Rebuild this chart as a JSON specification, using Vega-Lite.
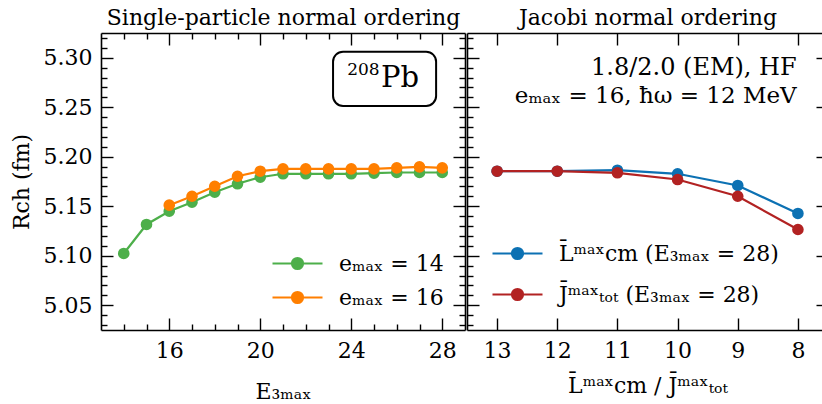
{
  "$schema": "https://vega.github.io/schema/vega-lite/v6.json",
  "padding": {"left": 10, "top": 6, "right": 0, "bottom": 0},
  "background": "white",
  "config": {
    "font": "DejaVu Serif",
    "view": {"stroke": null},
    "axis": {
      "labelFont": "DejaVu Serif", "titleFont": "DejaVu Serif",
      "labelFontSize": 22, "titleFontSize": 22, "titleFontWeight": "normal",
      "labelColor": "black", "titleColor": "black",
      "domainColor": "black", "domainWidth": 1.6,
      "tickColor": "black", "tickWidth": 1.4,
      "grid": false, "labelOverlap": false, "labelFlush": false,
      "minExtent": 0
    }
  },
  "datasets": {
    "sp": [
      {"E3max": 14, "R": 5.1023, "emax": 14, "series": "eₘₐₓ = 14"},
      {"E3max": 15, "R": 5.1316, "emax": 14, "series": "eₘₐₓ = 14"},
      {"E3max": 16, "R": 5.1450, "emax": 14, "series": "eₘₐₓ = 14"},
      {"E3max": 17, "R": 5.1541, "emax": 14, "series": "eₘₐₓ = 14"},
      {"E3max": 18, "R": 5.1642, "emax": 14, "series": "eₘₐₓ = 14"},
      {"E3max": 19, "R": 5.1727, "emax": 14, "series": "eₘₐₓ = 14"},
      {"E3max": 20, "R": 5.1793, "emax": 14, "series": "eₘₐₓ = 14"},
      {"E3max": 21, "R": 5.1828, "emax": 14, "series": "eₘₐₓ = 14"},
      {"E3max": 22, "R": 5.1828, "emax": 14, "series": "eₘₐₓ = 14"},
      {"E3max": 23, "R": 5.1828, "emax": 14, "series": "eₘₐₓ = 14"},
      {"E3max": 24, "R": 5.1828, "emax": 14, "series": "eₘₐₓ = 14"},
      {"E3max": 25, "R": 5.1834, "emax": 14, "series": "eₘₐₓ = 14"},
      {"E3max": 26, "R": 5.1841, "emax": 14, "series": "eₘₐₓ = 14"},
      {"E3max": 27, "R": 5.1841, "emax": 14, "series": "eₘₐₓ = 14"},
      {"E3max": 28, "R": 5.1841, "emax": 14, "series": "eₘₐₓ = 14"},
      {"E3max": 16, "R": 5.1511, "emax": 16, "series": "eₘₐₓ = 16"},
      {"E3max": 17, "R": 5.1601, "emax": 16, "series": "eₘₐₓ = 16"},
      {"E3max": 18, "R": 5.1702, "emax": 16, "series": "eₘₐₓ = 16"},
      {"E3max": 19, "R": 5.1803, "emax": 16, "series": "eₘₐₓ = 16"},
      {"E3max": 20, "R": 5.1854, "emax": 16, "series": "eₘₐₓ = 16"},
      {"E3max": 21, "R": 5.1878, "emax": 16, "series": "eₘₐₓ = 16"},
      {"E3max": 22, "R": 5.1878, "emax": 16, "series": "eₘₐₓ = 16"},
      {"E3max": 23, "R": 5.1878, "emax": 16, "series": "eₘₐₓ = 16"},
      {"E3max": 24, "R": 5.1878, "emax": 16, "series": "eₘₐₓ = 16"},
      {"E3max": 25, "R": 5.1878, "emax": 16, "series": "eₘₐₓ = 16"},
      {"E3max": 26, "R": 5.1888, "emax": 16, "series": "eₘₐₓ = 16"},
      {"E3max": 27, "R": 5.1898, "emax": 16, "series": "eₘₐₓ = 16"},
      {"E3max": 28, "R": 5.1888, "emax": 16, "series": "eₘₐₓ = 16"}
    ],
    "jac": [
      {"cut": 13, "R": 5.1854, "kind": "L", "series": "L̄ᵐᵃˣcm (E₃ₘₐₓ = 28)"},
      {"cut": 12, "R": 5.1854, "kind": "L", "series": "L̄ᵐᵃˣcm (E₃ₘₐₓ = 28)"},
      {"cut": 11, "R": 5.1864, "kind": "L", "series": "L̄ᵐᵃˣcm (E₃ₘₐₓ = 28)"},
      {"cut": 10, "R": 5.1828, "kind": "L", "series": "L̄ᵐᵃˣcm (E₃ₘₐₓ = 28)"},
      {"cut": 9, "R": 5.1710, "kind": "L", "series": "L̄ᵐᵃˣcm (E₃ₘₐₓ = 28)"},
      {"cut": 8, "R": 5.1427, "kind": "L", "series": "L̄ᵐᵃˣcm (E₃ₘₐₓ = 28)"},
      {"cut": 13, "R": 5.1854, "kind": "J", "series": "J̄ᵐᵃˣₜₒₜ (E₃ₘₐₓ = 28)"},
      {"cut": 12, "R": 5.1854, "kind": "J", "series": "J̄ᵐᵃˣₜₒₜ (E₃ₘₐₓ = 28)"},
      {"cut": 11, "R": 5.1838, "kind": "J", "series": "J̄ᵐᵃˣₜₒₜ (E₃ₘₐₓ = 28)"},
      {"cut": 10, "R": 5.1770, "kind": "J", "series": "J̄ᵐᵃˣₜₒₜ (E₃ₘₐₓ = 28)"},
      {"cut": 9, "R": 5.1601, "kind": "J", "series": "J̄ᵐᵃˣₜₒₜ (E₃ₘₐₓ = 28)"},
      {"cut": 8, "R": 5.1265, "kind": "J", "series": "J̄ᵐᵃˣₜₒₜ (E₃ₘₐₓ = 28)"}
    ],
    "one": [{}]
  },
  "spacing": 0,
  "resolve": {
    "scale": {"fill": "independent", "stroke": "independent"},
    "legend": {"fill": "independent", "stroke": "independent"}
  },
  "hconcat": [
    {
      "width": 364, "height": 297,
      "data": {"name": "sp"},
      "resolve": {"axis": {"x": "independent", "y": "independent"}},
      "layer": [
        {
          "transform": [{"filter": "datum.emax == 14"}],
          "mark": {"type": "line", "strokeWidth": 2.2},
          "encoding": {
            "x": {"field": "E3max", "type": "quantitative",
              "scale": {"domain": [13, 29], "nice": false, "zero": false},
              "axis": {"orient": "bottom", "title": "E₃ₘₐₓ", "values": [14,15,16,17,18,19,20,21,22,23,24,25,26,27,28],
                "labelExpr": "datum.value % 4 == 0 ? datum.label : ''",
                "tickSize": {"condition": {"test": "datum.value % 4 == 0", "value": -12}, "value": -6},
                "labelPadding": 22, "titlePadding": 14}},
            "y": {"field": "R", "type": "quantitative",
              "scale": {"domain": [5.025, 5.325], "nice": false, "zero": false},
              "axis": {"orient": "left", "title": "Rch (fm)",
                "values": [5.03,5.04,5.05,5.06,5.07,5.08,5.09,5.1,5.11,5.12,5.13,5.14,5.15,5.16,5.17,5.18,5.19,5.2,5.21,5.22,5.23,5.24,5.25,5.26,5.27,5.28,5.29,5.3,5.31,5.32],
                "labelExpr": "abs(datum.value*20 - round(datum.value*20)) < 0.01 ? format(datum.value, '.2f') : ''",
                "tickSize": {"condition": {"test": "abs(datum.value*20 - round(datum.value*20)) < 0.01", "value": -12}, "value": -6},
                "labelPadding": 21, "titlePadding": 10}},
            "stroke": {"field": "series", "type": "nominal",
              "scale": {"domain": ["eₘₐₓ = 14", "eₘₐₓ = 16"], "range": ["#4daf4a", "#ff7f00"]},
              "legend": {"title": null, "orient": "bottom-right", "offset": 21,
                "symbolType": "M-1,0H4M0.95,0A0.55,0.55,0,1,1,2.05,0A0.55,0.55,0,1,1,0.95,0",
                "symbolSize": 400, "symbolStrokeWidth": 2.2, "symbolOpacity": 1,
                "labelFont": "DejaVu Serif", "labelFontSize": 22, "labelColor": "black",
                "labelOffset": 45, "rowPadding": 11, "padding": 0, "labelLimit": 0}}
          }
        },
        {
          "transform": [{"filter": "datum.emax == 14"}],
          "mark": {"type": "point", "filled": true, "size": 135, "opacity": 1},
          "encoding": {
            "x": {"field": "E3max", "type": "quantitative",
              "axis": {"orient": "top", "title": "Single-particle normal ordering", "titlePadding": 3, "labels": false,
                "values": [14,15,16,17,18,19,20,21,22,23,24,25,26,27,28],
                "tickSize": {"condition": {"test": "datum.value % 4 == 0", "value": -12}, "value": -6}}},
            "y": {"field": "R", "type": "quantitative",
              "axis": {"orient": "right", "title": null, "labels": false,
                "values": [5.03,5.04,5.05,5.06,5.07,5.08,5.09,5.1,5.11,5.12,5.13,5.14,5.15,5.16,5.17,5.18,5.19,5.2,5.21,5.22,5.23,5.24,5.25,5.26,5.27,5.28,5.29,5.3,5.31,5.32],
                "tickSize": {"condition": {"test": "abs(datum.value*20 - round(datum.value*20)) < 0.01", "value": -12}, "value": -6}}},
            "fill": {"field": "series", "type": "nominal",
              "scale": {"domain": ["eₘₐₓ = 14", "eₘₐₓ = 16"], "range": ["#4daf4a", "#ff7f00"]},
              "legend": {"title": null, "orient": "bottom-right", "offset": 21,
                "symbolType": "M-1,0H4M0.95,0A0.55,0.55,0,1,1,2.05,0A0.55,0.55,0,1,1,0.95,0",
                "symbolSize": 400, "symbolStrokeWidth": 2.2, "symbolOpacity": 1,
                "labelFont": "DejaVu Serif", "labelFontSize": 22, "labelColor": "black",
                "labelOffset": 45, "rowPadding": 11, "padding": 0, "labelLimit": 0}}
          }
        },
        {
          "transform": [{"filter": "datum.emax == 16"}],
          "mark": {"type": "line", "strokeWidth": 2.2},
          "encoding": {
            "x": {"field": "E3max", "type": "quantitative", "axis": null},
            "y": {"field": "R", "type": "quantitative", "axis": null},
            "stroke": {"field": "series", "type": "nominal"}
          }
        },
        {
          "transform": [{"filter": "datum.emax == 16"}],
          "mark": {"type": "point", "filled": true, "size": 135, "opacity": 1},
          "encoding": {
            "x": {"field": "E3max", "type": "quantitative", "axis": null},
            "y": {"field": "R", "type": "quantitative", "axis": null},
            "fill": {"field": "series", "type": "nominal"}
          }
        },
        {
          "data": {"name": "one"},
          "mark": {"type": "rect", "cornerRadius": 10, "fill": "white", "stroke": "black", "strokeWidth": 2},
          "encoding": {
            "x": {"datum": 23.2, "type": "quantitative", "axis": null},
            "x2": {"datum": 27.73},
            "y": {"datum": 5.3061, "type": "quantitative", "axis": null},
            "y2": {"datum": 5.2513}
          }
        },
        {
          "data": {"name": "one"},
          "mark": {"type": "text", "text": "208", "align": "right", "baseline": "alphabetic", "fontSize": 17, "font": "DejaVu Serif", "color": "black"},
          "encoding": {
            "x": {"datum": 25.25, "type": "quantitative", "axis": null},
            "y": {"datum": 5.2826, "type": "quantitative", "axis": null}
          }
        },
        {
          "data": {"name": "one"},
          "mark": {"type": "text", "text": "Pb", "align": "left", "baseline": "alphabetic", "fontSize": 29, "font": "DejaVu Serif", "color": "black"},
          "encoding": {
            "x": {"datum": 25.31, "type": "quantitative", "axis": null},
            "y": {"datum": 5.2708, "type": "quantitative", "axis": null}
          }
        }
      ]
    },
    {
      "width": 361, "height": 297,
      "data": {"name": "jac"},
      "resolve": {"axis": {"x": "independent", "y": "independent"}},
      "layer": [
        {
          "transform": [{"filter": "datum.kind == 'L'"}],
          "mark": {"type": "line", "strokeWidth": 2.2},
          "encoding": {
            "x": {"field": "cut", "type": "quantitative",
              "scale": {"domain": [7.5, 13.5], "reverse": true, "nice": false, "zero": false},
              "axis": {"orient": "bottom", "title": "L̄ᵐᵃˣcm / J̄ᵐᵃˣₜₒₜ", "values": [8,9,10,11,12,13],
                "tickSize": -12, "labelPadding": 22, "titlePadding": 14}},
            "y": {"field": "R", "type": "quantitative",
              "scale": {"domain": [5.025, 5.325], "nice": false, "zero": false},
              "axis": {"orient": "left", "title": null, "labels": false,
                "values": [5.03,5.04,5.05,5.06,5.07,5.08,5.09,5.1,5.11,5.12,5.13,5.14,5.15,5.16,5.17,5.18,5.19,5.2,5.21,5.22,5.23,5.24,5.25,5.26,5.27,5.28,5.29,5.3,5.31,5.32],
                "tickSize": {"condition": {"test": "abs(datum.value*20 - round(datum.value*20)) < 0.01", "value": -12}, "value": -6}}},
            "stroke": {"field": "series", "type": "nominal",
              "scale": {"domain": ["L̄ᵐᵃˣcm (E₃ₘₐₓ = 28)", "J̄ᵐᵃˣₜₒₜ (E₃ₘₐₓ = 28)"], "range": ["#0c71b3", "#b22222"]},
              "legend": {"title": null, "orient": "bottom-left", "offset": 24,
                "symbolType": "M-1,0H4M0.95,0A0.55,0.55,0,1,1,2.05,0A0.55,0.55,0,1,1,0.95,0",
                "symbolSize": 400, "symbolStrokeWidth": 2.2, "symbolOpacity": 1,
                "labelFont": "DejaVu Serif", "labelFontSize": 22, "labelColor": "black",
                "labelOffset": 45, "rowPadding": 18, "padding": 0, "labelLimit": 0}}
          }
        },
        {
          "transform": [{"filter": "datum.kind == 'L'"}],
          "mark": {"type": "point", "filled": true, "size": 135, "opacity": 1},
          "encoding": {
            "x": {"field": "cut", "type": "quantitative",
              "axis": {"orient": "top", "title": "Jacobi normal ordering", "titlePadding": 3, "labels": false, "values": [8,9,10,11,12,13], "tickSize": -12}},
            "y": {"field": "R", "type": "quantitative",
              "axis": {"orient": "right", "title": null, "labels": false, "values": [5.05,5.1,5.15,5.2,5.25,5.3], "tickSize": -12}},
            "fill": {"field": "series", "type": "nominal",
              "scale": {"domain": ["L̄ᵐᵃˣcm (E₃ₘₐₓ = 28)", "J̄ᵐᵃˣₜₒₜ (E₃ₘₐₓ = 28)"], "range": ["#0c71b3", "#b22222"]},
              "legend": {"title": null, "orient": "bottom-left", "offset": 24,
                "symbolType": "M-1,0H4M0.95,0A0.55,0.55,0,1,1,2.05,0A0.55,0.55,0,1,1,0.95,0",
                "symbolSize": 400, "symbolStrokeWidth": 2.2, "symbolOpacity": 1,
                "labelFont": "DejaVu Serif", "labelFontSize": 22, "labelColor": "black",
                "labelOffset": 45, "rowPadding": 18, "padding": 0, "labelLimit": 0}}
          }
        },
        {
          "transform": [{"filter": "datum.kind == 'J'"}],
          "mark": {"type": "line", "strokeWidth": 2.2},
          "encoding": {
            "x": {"field": "cut", "type": "quantitative", "axis": null},
            "y": {"field": "R", "type": "quantitative", "axis": null},
            "stroke": {"field": "series", "type": "nominal"}
          }
        },
        {
          "transform": [{"filter": "datum.kind == 'J'"}],
          "mark": {"type": "point", "filled": true, "size": 135, "opacity": 1},
          "encoding": {
            "x": {"field": "cut", "type": "quantitative", "axis": null},
            "y": {"field": "R", "type": "quantitative", "axis": null},
            "fill": {"field": "series", "type": "nominal"}
          }
        },
        {
          "data": {"name": "one"},
          "mark": {"type": "text", "text": "1.8/2.0 (EM), HF", "align": "right", "baseline": "alphabetic", "fontSize": 24, "font": "DejaVu Serif", "color": "black"},
          "encoding": {
            "x": {"datum": 8.02, "type": "quantitative", "axis": null},
            "y": {"datum": 5.2826, "type": "quantitative", "axis": null}
          }
        },
        {
          "data": {"name": "one"},
          "mark": {"type": "text", "text": "eₘₐₓ = 16, ħω = 12 MeV", "align": "right", "baseline": "alphabetic", "fontSize": 23, "font": "DejaVu Serif", "color": "black"},
          "encoding": {
            "x": {"datum": 8.02, "type": "quantitative", "axis": null},
            "y": {"datum": 5.254, "type": "quantitative", "axis": null}
          }
        }
      ]
    }
  ]
}
